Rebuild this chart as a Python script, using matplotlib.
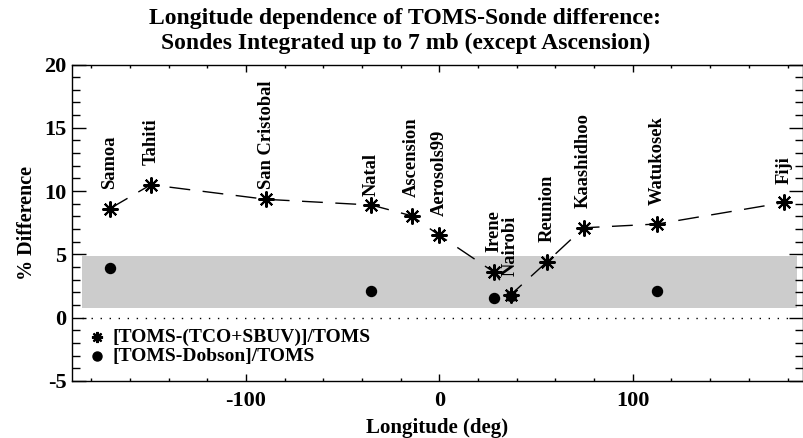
import matplotlib
matplotlib.use("Agg")
import matplotlib.pyplot as plt
from matplotlib.ticker import MultipleLocator

plt.rcParams['font.family'] = ['Liberation Serif', 'DejaVu Serif']
plt.rcParams['font.weight'] = 'bold'
plt.rcParams['axes.unicode_minus'] = False

# --- data ---
stations = ["Samoa", "Tahiti", "San Cristobal", "Natal", "Ascension", "Aerosols99",
            "Irene", "Nairobi", "Reunion", "Kaashidhoo", "Watukosek", "Fiji"]
station_lon = [-170.6, -149.3, -89.6, -35.2, -14.4, 0.0,
               28.2, 36.8, 55.5, 74.5, 112.6, 178.4]
tco_diff = [8.6, 10.5, 9.35, 8.9, 8.05, 6.5, 3.6, 1.8, 4.4, 7.1, 7.4, 9.1]

dobson_lon = [-170.6, -35.2, 28.2, 36.8, 112.6]
dobson_diff = [3.9, 2.1, 1.55, 1.75, 2.1]

band_range = [0.75, 4.9]
x_ticks = [-100, 0, 100]
y_ticks = [-5, 0, 5, 10, 15, 20]
legend_labels = ["[TOMS-(TCO+SBUV)]/TOMS", "[TOMS-Dobson]/TOMS"]

# label offsets above stars (layout, in data units)
label_offset = [1.55, 1.6, 0.8, 0.7, 1.45, 1.5, 1.6, 1.5, 1.6, 1.6, 1.5, 1.5]

fig = plt.figure(figsize=(8.04, 4.38), dpi=100)
ax = fig.add_axes([72/804, 1-381/438, (803-72)/804, (381-64.5)/438])

ax.set_xlim(-190, 188)
ax.set_ylim(-5, 20)

ax.axhspan(band_range[0], band_range[1], xmin=(-185+190)/378, xmax=(185+190)/378,
           color='#cccccc', lw=0, zorder=0)
ax.plot([-185, 180], [0, 0], ls=(0, (1, 5.5)), color='black', lw=1.0, zorder=1)

star = (8, 2, 0)
ax.plot(station_lon, tco_diff, ls=(0, (15, 9)), color='black', lw=1.0, zorder=2)
ax.plot(station_lon, tco_diff, ls='none', marker=star, ms=11.5, mew=1.5,
        color='black', zorder=4)
ax.plot(dobson_lon, dobson_diff, ls='none', marker='o', ms=7.2, color='black', zorder=3)

for name, lon, v, off in zip(stations, station_lon, tco_diff, label_offset):
    ax.text(lon, v + off, name, rotation=90, ha='center', va='bottom',
            fontsize=13.3, fontweight='bold')

# legend (drawn as in the original, inside the plot)
leg_y = [-1.55, -3.05]
ax.plot([-177], [leg_y[0]], marker=star, ms=8, mew=1.6, color='black', ls='none')
ax.text(-169, leg_y[0], legend_labels[0], ha='left', va='center', fontsize=14)
ax.plot([-177], [leg_y[1]], marker='o', ms=6.5, color='black', ls='none')
ax.text(-169, leg_y[1], legend_labels[1], ha='left', va='center', fontsize=14)

ax.set_xticks(x_ticks)
ax.set_xticklabels([str(t) for t in x_ticks])
ax.xaxis.set_minor_locator(MultipleLocator(20))
ax.set_yticks(y_ticks)
ax.set_yticklabels([str(t) for t in y_ticks])
ax.yaxis.set_minor_locator(MultipleLocator(1))

ax.tick_params(axis='both', which='both', direction='in', top=True, right=True,
               colors='black', labelsize=16)
ax.tick_params(axis='x', which='major', length=5, width=1, pad=7)
ax.tick_params(axis='x', which='minor', length=2.5, width=1)
ax.tick_params(axis='y', which='major', length=10, width=1, pad=4)
ax.tick_params(axis='y', which='minor', length=5.5, width=1)
for sp in ax.spines.values():
    sp.set_linewidth(1.0)

for lbl in ax.get_xticklabels() + ax.get_yticklabels():
    lbl.set_fontweight('bold')

ax.set_xlabel("Longitude (deg)", fontsize=15, fontweight='bold', labelpad=5)
ax.set_ylabel("% Difference", fontsize=14.5, fontweight='bold', labelpad=5)

fig.text(0.504, 0.957, "Longitude dependence of TOMS-Sonde difference:",
         ha='center', va='center', fontsize=17, fontweight='bold')
fig.text(0.504, 0.901, "Sondes Integrated up to 7 mb (except Ascension)",
         ha='center', va='center', fontsize=17, fontweight='bold')

fig.savefig("out.png", dpi=100)
